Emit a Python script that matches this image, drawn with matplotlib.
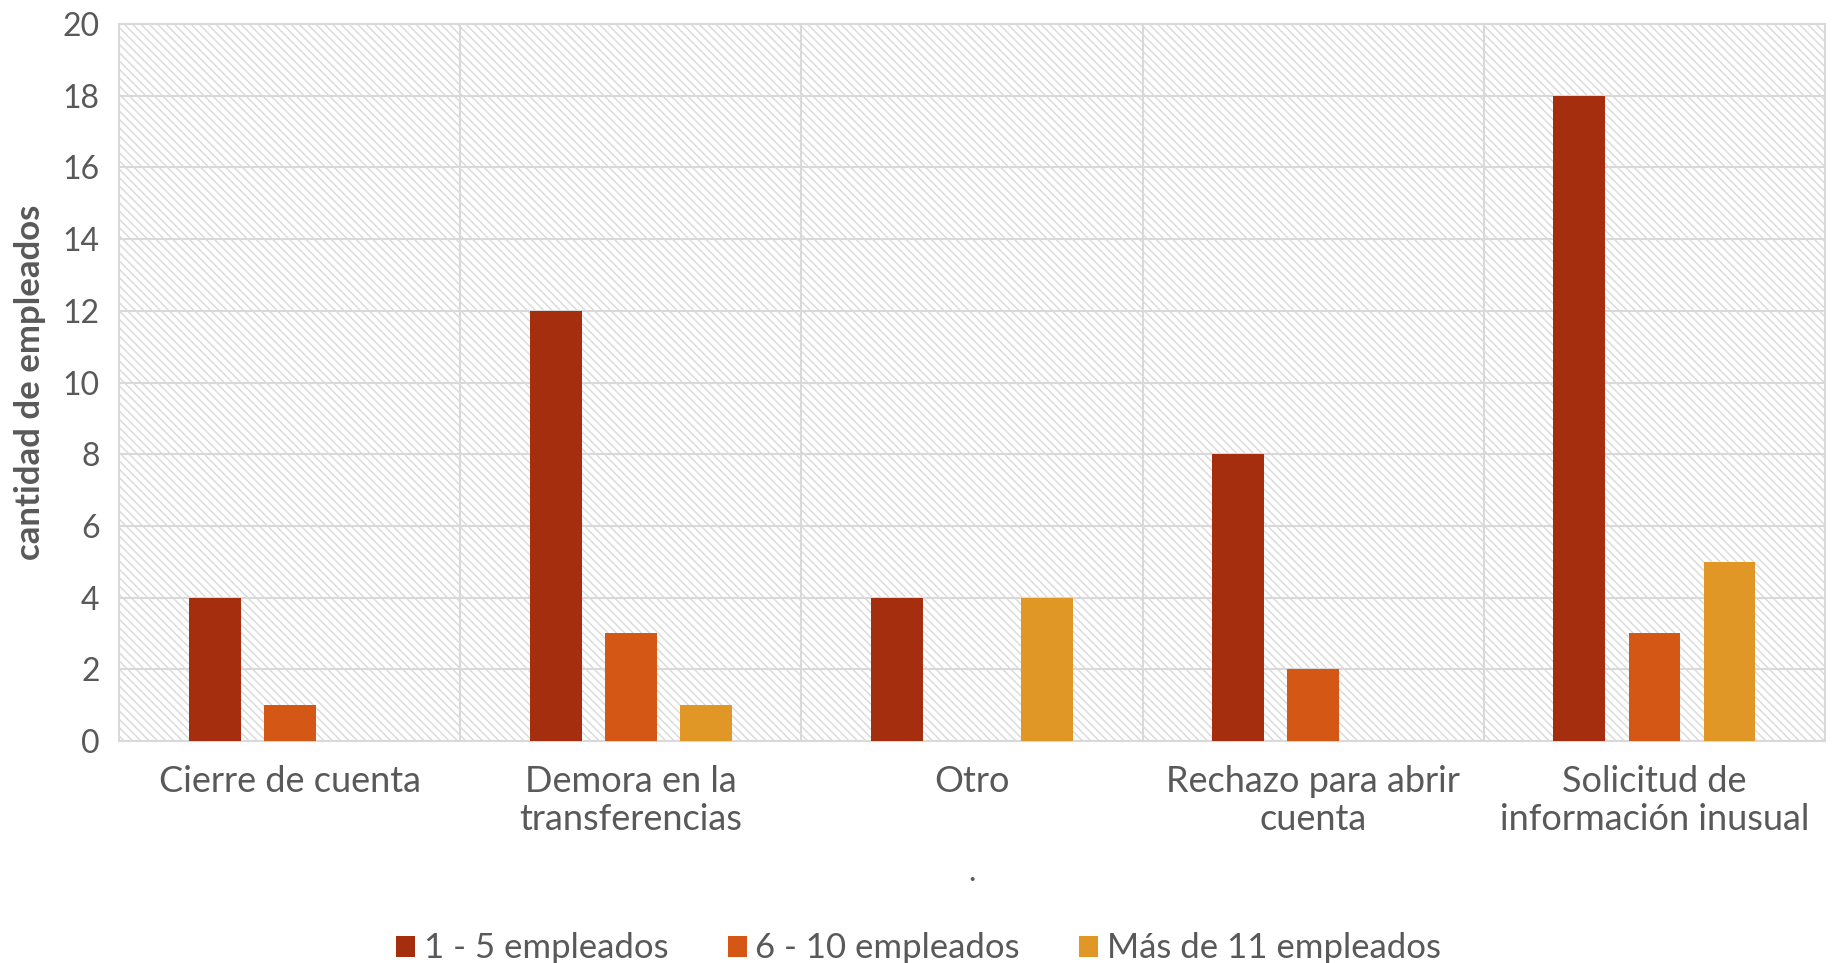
import numpy as np
import matplotlib.pyplot as plt
from matplotlib.patches import Patch

categories = ["Cierre de cuenta", "Demora en la\ntransferencias", "Otro",
              "Rechazo para abrir\ncuenta", "Solicitud de\ninformación inusual"]
series_names = ["1 - 5 empleados", "6 - 10 empleados", "Más de 11 empleados"]
vals_1_5 = [4, 12, 4, 8, 18]
vals_6_10 = [1, 3, 0, 2, 3]
vals_11 = [0, 1, 4, 0, 5]
colors = ["#A42E0E", "#D45716", "#E09726"]

plt.rcParams['font.family'] = ['Lato', 'DejaVu Sans']
plt.rcParams['hatch.color'] = '#d9d9d9'
plt.rcParams['hatch.linewidth'] = 1.0
txt = '#595959'
grid = '#d9d9d9'

fig = plt.figure(figsize=(18.37, 9.63), dpi=100)
ax = fig.add_axes([0.0648, 0.2305, 0.9287, 0.7445])

# hatched plot background
ax.patch.set_facecolor('white')
ax.patch.set_hatch('\\\\\\\\')
ax.patch.set_edgecolor(grid)

x = np.arange(len(categories))
w = 0.152
step = 0.22
for i, (vals, c) in enumerate(zip([vals_1_5, vals_6_10, vals_11], colors)):
    ax.bar(x + (i - 1) * step, vals, width=w, color=c, label=series_names[i], zorder=3)

ax.set_xlim(-0.5, len(categories) - 0.5)
ax.set_ylim(0, 20)
ax.set_yticks(range(0, 21, 2))
ax.set_xticks(x)
ax.set_xticklabels(categories, fontsize=26, color=txt, linespacing=1.2)
ax.tick_params(axis='y', labelsize=23, labelcolor=txt, length=0, pad=14)
ax.tick_params(axis='x', length=0, pad=17)

ax.grid(axis='y', color=grid, linewidth=1.5, zorder=1)
for b in np.arange(0.5, len(categories) - 0.5):
    ax.axvline(b, color=grid, linewidth=1.5, zorder=1)
for s in ax.spines.values():
    s.set_color(grid)
    s.set_linewidth(1.5)

ax.set_ylabel("cantidad de empleados", fontsize=25, fontweight='bold', color=txt, labelpad=12)
ax.set_xlabel(".", fontsize=22, color=txt, labelpad=16)

handles = [Patch(facecolor=c, label=n) for c, n in zip(colors, series_names)]
fig.legend(handles=handles, loc='lower center', bbox_to_anchor=(0.5, -0.034), ncol=3,
           frameon=False, fontsize=25, labelcolor=txt, handlelength=0.55, handleheight=0.55,
           handletextpad=0.25, columnspacing=1.7)

fig.savefig("out.png", dpi=100)
